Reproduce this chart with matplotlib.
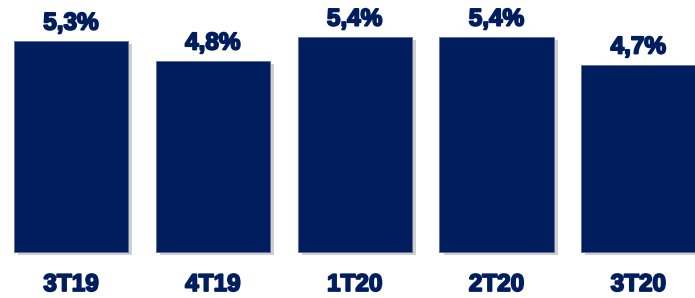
import matplotlib
matplotlib.use("Agg")
import matplotlib.pyplot as plt
import matplotlib.patheffects as pe

categories = ["3T19", "4T19", "1T20", "2T20", "3T20"]
values = [5.3, 4.8, 5.4, 5.4, 4.7]
value_labels = ["5,3%", "4,8%", "5,4%", "5,4%", "4,7%"]

navy = "#001E5E"

fig = plt.figure(figsize=(6.95, 2.98), dpi=100)
ax = fig.add_axes([0, 0, 1, 1])
x = range(len(categories))
bars = ax.bar(x, values, width=0.805, color=navy, edgecolor="#5a6f96", linewidth=0.6,
              path_effects=[pe.SimplePatchShadow(offset=(3, -2), shadow_rgbFace="#b0b0b0", alpha=0.6), pe.Normal()])
text_fx = [pe.withStroke(linewidth=1.3, foreground=navy)]
for xi, v, lab in zip(x, values, value_labels):
    ax.text(xi, v + 0.16, lab, ha="center", va="bottom", fontsize=17.5,
            fontweight="bold", color=navy, family="Liberation Sans", path_effects=text_fx)
for xi, c in zip(x, categories):
    ax.text(xi, -0.98, c, ha="center", va="baseline", fontsize=17.5,
            fontweight="bold", color=navy, family="Liberation Sans", path_effects=text_fx)
ax.set_xlim(-0.5, 4.40)
ax.set_ylim(-1.156, 6.33)
ax.axis("off")
fig.savefig("out.png", dpi=100)
